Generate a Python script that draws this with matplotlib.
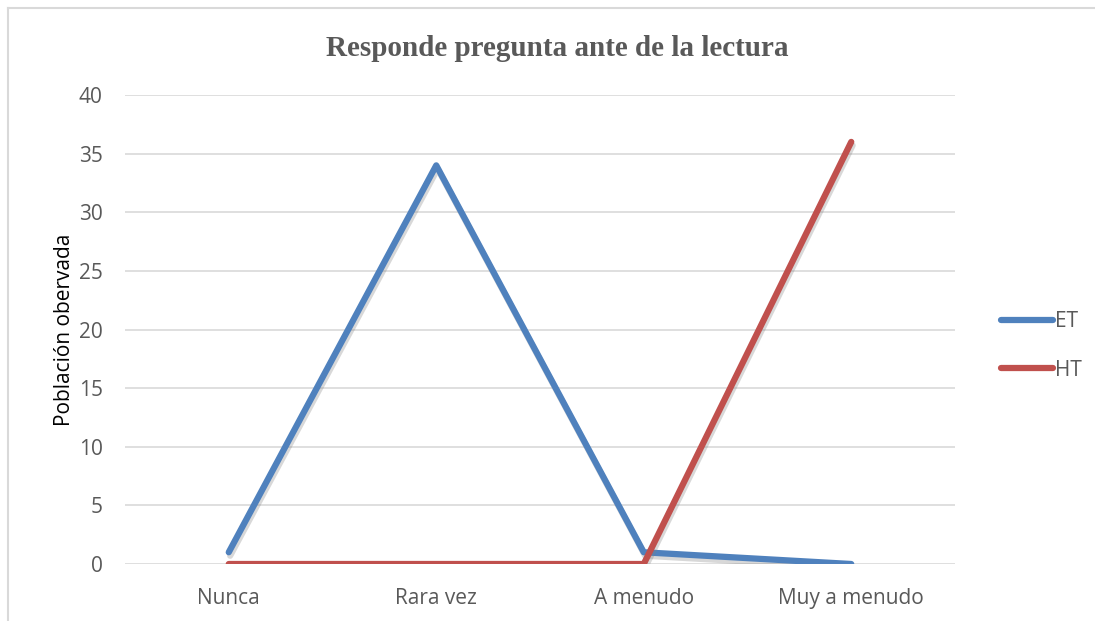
import matplotlib
matplotlib.use("Agg")
import matplotlib.pyplot as plt
import matplotlib.patheffects as pe
from matplotlib.lines import Line2D

categories = ["Nunca", "Rara vez", "A menudo", "Muy a menudo"]
et_values = [1, 34, 1, 0]
ht_values = [0, 0, 0, 36]
yticks = [0, 5, 10, 15, 20, 25, 30, 35, 40]

fig = plt.figure(figsize=(10.95, 6.21), dpi=100)
ax = fig.add_axes([125/1095, 1-564/621, 830/1095, 469/621])

x = list(range(len(categories)))
shadow = [pe.SimpleLineShadow(offset=(1, -2.5), shadow_color="gray", alpha=0.3), pe.Normal()]
ax.plot(x, et_values, color="#4F81BD", lw=4.5, solid_capstyle="round",
        solid_joinstyle="round", path_effects=shadow, label="ET", zorder=3)
ax.plot(x, ht_values, color="#C0504D", lw=4.5, solid_capstyle="round",
        solid_joinstyle="round", path_effects=shadow, label="HT", zorder=4)

ax.set_xlim(-0.5, len(categories) - 0.5)
ax.set_ylim(0, 40)
ax.set_yticks(yticks)
ax.set_xticks(x)
ax.set_xticklabels(categories)
ax.yaxis.grid(True, color="#D9D9D9", lw=1.2)
ax.set_axisbelow(True)
for s in ax.spines.values():
    s.set_visible(False)
ax.tick_params(axis="both", length=0, labelsize=15, labelcolor="#595959")
ax.tick_params(axis="y", pad=16)
ax.tick_params(axis="x", pad=17)
for t in ax.get_xticklabels() + ax.get_yticklabels():
    t.set_fontfamily("Open Sans")
ax.set_ylabel("Población obervada", fontsize=15, color="#000000",
              fontfamily="Open Sans", labelpad=3)

fig.text(557/1095, 1-48/621, "Responde pregunta ante de la lectura",
         ha="center", va="center", fontsize=21, fontweight="bold",
         color="#595959", fontfamily="Liberation Serif")

handles = [Line2D([], [], color="#4F81BD", lw=4.5, solid_capstyle="round"),
           Line2D([], [], color="#C0504D", lw=4.5, solid_capstyle="round")]
leg = fig.legend(handles, ["ET", "HT"], loc="center left",
                 bbox_to_anchor=(982/1095, 1-346/621), frameon=False,
                 handlelength=2.5, handletextpad=0.1, labelspacing=1.3,
                 prop={"family": "Open Sans", "size": 15})
for t in leg.get_texts():
    t.set_color("#595959")

# outer border
fig.add_artist(Line2D([8/1095, 8/1095], [0, 1-8/621], transform=fig.transFigure,
                      color="#D9D9D9", lw=1.5))
fig.add_artist(Line2D([8/1095, 1], [1-8/621, 1-8/621], transform=fig.transFigure,
                      color="#D9D9D9", lw=1.5))

fig.savefig("out.png", dpi=100, facecolor="white")
